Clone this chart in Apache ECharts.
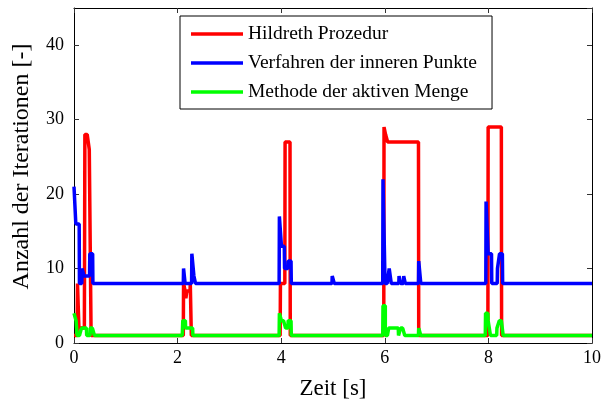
<!DOCTYPE html>
<html>
<head>
<meta charset="utf-8">
<script src="https://cdn.jsdelivr.net/npm/echarts@6/dist/echarts.min.js"></script>
<style>
html,body{margin:0;padding:0;background:#fff;}
#chart{width:604px;height:405px;}
</style>
</head>
<body>
<div id="chart"></div>
<script>
// ---- data (time in s, iteration counts) ----
const seriesNames = ['Hildreth Prozedur', 'Verfahren der inneren Punkte', 'Methode der aktiven Menge'];
const xTicks = [0, 2, 4, 6, 8, 10];
const yTicks = [0, 10, 20, 30, 40];

const hildrethTime = [0, 0.06, 0.075, 0.09, 0.10, 0.20, 0.22, 0.29, 0.30, 0.32, 0.34,
  2.11, 2.12, 2.14, 2.15, 2.17, 2.19, 2.24, 2.25, 2.26, 2.27,
  3.98, 3.99, 4.07, 4.08, 4.17, 4.18,
  5.98, 5.99, 6.01, 6.02, 6.05, 6.06, 6.65, 6.66,
  7.99, 8.00, 8.25, 8.26, 10];
const hildrethIter = [1, 1, 8, 8, 2, 2, 28, 28, 26, 26, 1,
  1, 8, 8, 7, 6, 7, 7, 8, 8, 1,
  1, 8, 8, 27, 27, 1,
  1, 29, 29, 28, 28, 27, 27, 1,
  1, 29, 29, 1, 1];

const innerTime = [0, 0.03, 0.04, 0.10, 0.11, 0.15, 0.16, 0.19, 0.20, 0.30, 0.31, 0.36, 0.37,
  2.11, 2.12, 2.14, 2.15, 2.27, 2.28, 2.31, 2.32, 2.34, 2.35,
  3.96, 3.97, 4.00, 4.01, 4.06, 4.07, 4.13, 4.14, 4.19, 4.20,
  4.98, 4.99, 5.02, 5.03,
  5.96, 5.97, 6.00, 6.01, 6.08, 6.09, 6.12, 6.13, 6.27, 6.28, 6.30, 6.31, 6.36, 6.37, 6.39, 6.40, 6.65, 6.66, 6.69, 6.70,
  7.95, 7.96, 7.99, 8.00, 8.06, 8.07, 8.17, 8.18, 8.21, 8.22, 8.27, 8.28, 10];
const innerIter = [21, 21, 16, 16, 8, 8, 10, 10, 9, 9, 12, 12, 8,
  8, 10, 10, 8, 8, 12, 12, 9, 9, 8,
  8, 17, 17, 13, 13, 10, 10, 11, 11, 8,
  8, 9, 9, 8,
  8, 22, 22, 8, 8, 10, 10, 8, 8, 9, 9, 8, 8, 9, 9, 8, 8, 11, 11, 8,
  8, 19, 19, 12, 12, 8, 8, 10, 10, 12, 12, 8, 8];

const activeTime = [0, 0.03, 0.05, 0.07, 0.14, 0.15, 0.24, 0.25, 0.31, 0.32, 0.39, 0.40,
  2.09, 2.11, 2.15, 2.16, 2.29, 2.30,
  3.96, 3.97, 4.00, 4.01, 4.08, 4.09, 4.13, 4.14, 4.19, 4.20,
  5.96, 5.97, 5.99, 6.03, 6.07, 6.08, 6.26, 6.27, 6.30, 6.31, 6.38, 6.39, 6.65, 6.66, 6.69, 6.70,
  7.94, 7.95, 7.99, 8.00, 8.03, 8.05, 8.16, 8.17, 8.20, 8.22, 8.28, 8.29, 10];
const activeIter = [4, 4, 3, 1, 1, 2, 2, 1, 1, 2, 2, 1,
  1, 3, 3, 2, 2, 1,
  1, 4, 4, 3, 3, 2, 2, 3, 3, 1,
  1, 5, 5, 1, 1, 2, 2, 1, 1, 2, 2, 1, 1, 2, 2, 1,
  1, 4, 4, 3, 3, 1, 1, 2, 2, 3, 3, 1, 1];

const colors = ['#ff0000', '#0000ff', '#00ff00'];

function zip(t, v) { return t.map((x, i) => [x, v[i]]); }

const FONT = '"Liberation Serif", "Times New Roman", serif';
const chart = echarts.init(document.getElementById('chart'), null, {renderer: 'canvas'});

const tickStyle = {show: true, inside: true, length: 5, lineStyle: {color: '#333', width: 1}};
const lineStyleAxis = {show: true, onZero: false, lineStyle: {color: '#000', width: 1}};

chart.setOption({
  animation: false,
  backgroundColor: '#fff',
  grid: {left: 74, right: 6, top: 8, bottom: 62, containLabel: false},
  legend: {
    data: seriesNames,
    orient: 'vertical',
    left: 180,
    top: 16,
    icon: 'rect',
    itemWidth: 52,
    itemHeight: 3.5,
    itemGap: 9,
    itemTextGap: 7,
    padding: [8, 15, 7, 11],
    borderColor: '#000',
    borderWidth: 1,
    backgroundColor: '#fff',
    textStyle: {fontFamily: FONT, fontSize: 19.5, color: '#000', lineHeight: 20}
  },
  xAxis: [{
    type: 'value', min: 0, max: 10, interval: 2,
    name: 'Zeit [s]', nameLocation: 'middle', nameGap: 34,
    nameTextStyle: {fontFamily: FONT, fontSize: 23, color: '#000'},
    axisLine: lineStyleAxis, axisTick: tickStyle,
    axisLabel: {fontFamily: FONT, fontSize: 18, color: '#000', margin: 6,
      formatter: v => xTicks.includes(v) ? String(v) : ''},
    splitLine: {show: false}
  }, {
    type: 'value', min: 0, max: 10, interval: 2, position: 'top',
    axisLine: lineStyleAxis, axisTick: tickStyle, axisLabel: {show: false}, splitLine: {show: false}
  }],
  yAxis: [{
    type: 'value', min: 0, max: 45, interval: 10,
    name: 'Anzahl der Iterationen [-]', nameLocation: 'middle', nameGap: 40,
    nameTextStyle: {fontFamily: FONT, fontSize: 24, color: '#000', padding: [0, 0, 0, 18]},
    axisLine: lineStyleAxis, axisTick: tickStyle,
    axisLabel: {fontFamily: FONT, fontSize: 18, color: '#000', margin: 10, showMaxLabel: false,
      formatter: v => yTicks.includes(v) ? String(v) : ''},
    splitLine: {show: false}
  }, {
    type: 'value', min: 0, max: 45, interval: 10, position: 'right',
    axisLine: lineStyleAxis, axisTick: tickStyle, axisLabel: {show: false}, splitLine: {show: false}
  }],
  series: [
    {name: seriesNames[0], type: 'line', data: zip(hildrethTime, hildrethIter), showSymbol: false, step: 'middle',
      color: colors[0], lineStyle: {width: 3.5, color: colors[0]}, z: 2},
    {name: seriesNames[1], type: 'line', data: zip(innerTime, innerIter), showSymbol: false, step: 'middle',
      color: colors[1], lineStyle: {width: 3.5, color: colors[1]}, z: 3},
    {name: seriesNames[2], type: 'line', data: zip(activeTime, activeIter), showSymbol: false, step: 'middle',
      color: colors[2], lineStyle: {width: 3.5, color: colors[2]}, z: 4}
  ]
});
</script>
</body>
</html>
